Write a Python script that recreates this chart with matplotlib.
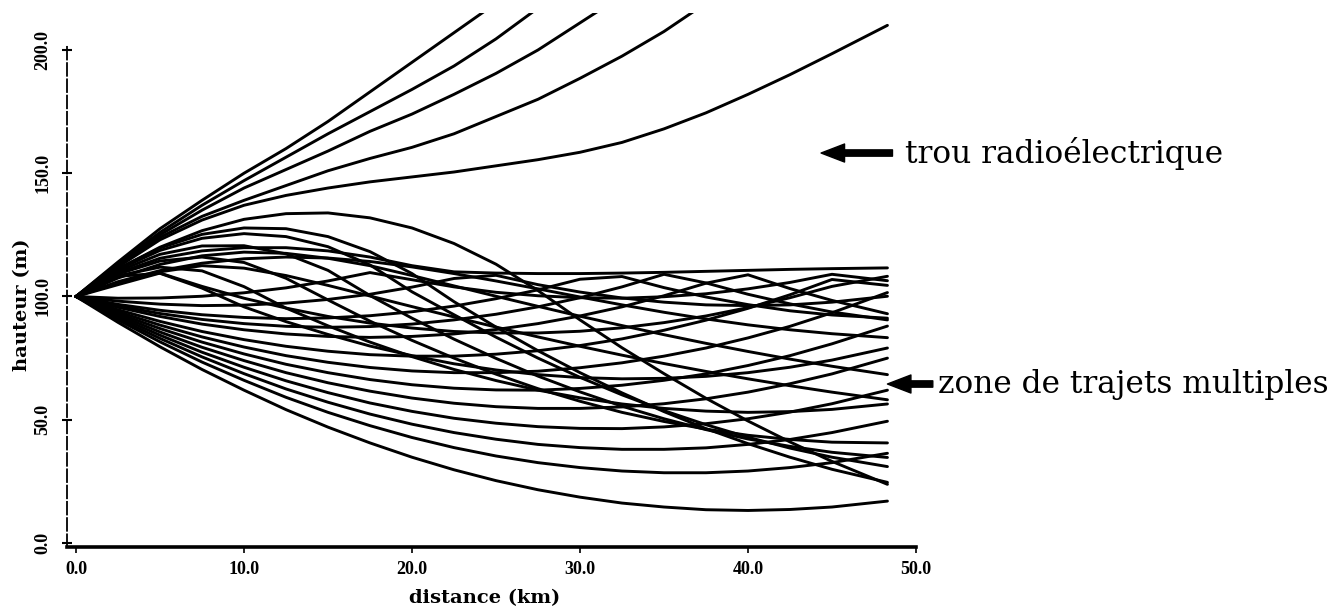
import matplotlib
matplotlib.use("Agg")
import matplotlib.pyplot as plt

# Range samples (km) shared by every ray
dist_km = [0, 2.5, 5, 7.5, 10, 12.5, 15, 17.5, 20, 22.5, 25, 27.5, 30, 32.5, 35,
           37.5, 40, 42.5, 45, 48.3]

# Heights (m) of the rays that escape above the duct
escaping_rays = [
    [100, 114, 127.5, 139, 150, 160, 171, 183, 195, 207, 219],
    [100, 113.5, 126, 137, 147, 156.5, 166, 175, 184, 193.5, 204.5, 217],
    [100, 113, 125, 135, 144, 151.5, 159, 167, 174, 182, 190.5, 200, 211, 222],
    [100, 112.5, 124, 132.5, 139, 145, 151, 156, 160.5, 166, 173, 180, 188.5, 197.5,
     207.5, 219],
    [100, 112, 123, 131, 137, 141, 144, 146.5, 148.5, 150.5, 153, 155.5, 158.5, 162.5,
     168, 174.5, 182, 190, 198.5, 210],
]

# Rays launched upwards and bent back into the duct
returning_rays = [
    [100, 109.5, 115.5, 118.5, 119.8, 119.8, 118.5, 116, 112.5, 110, 109.5, 109.3, 109.3,
     109.5, 109.8, 110.2, 110.6, 111, 111.3, 111.6],
    [100, 111.1, 120, 126.7, 131.3, 133.6, 133.9, 131.9, 127.8, 121.5, 113.1, 102.4, 90.5,
     79.2, 68.7, 58.7, 49.5, 41, 33.1, 23.8],
    [100, 111.3, 119.7, 125.2, 127.8, 127.5, 124.3, 118.2, 109.3, 97.9, 87.6, 78, 69.1,
     60.9, 53.3, 46.4, 40.3, 34.8, 29.9, 24.6],
    [100, 110.9, 118.7, 123.6, 125.5, 124.3, 120.2, 112.8, 101.9, 92.6, 83.5, 75, 67.2,
     60.1, 53.7, 48, 42.9, 38.5, 34.8, 31],
    [100, 110.2, 117.1, 120.5, 120.6, 117.3, 110.6, 100.4, 91.2, 82.7, 74.9, 67.7, 61.3,
     55.5, 50.4, 46, 42.2, 39.2, 36.8, 34.7],
    [100, 107.5, 113, 116.5, 118, 117.5, 115.5, 112.5, 108.5, 104.3, 100.1, 96, 92, 88.2,
     84.5, 81, 77.7, 74.6, 71.7, 68.3],
    [100, 109.1, 114.4, 116, 113.8, 107.4, 98.6, 90, 82.2, 75, 68.5, 62.6, 57.5, 53, 49.3,
     46.2, 43.7, 42, 40.9, 40.6],
    [100, 106, 110.5, 113.5, 115.3, 116, 115.6, 114.2, 112, 109.3, 106.3, 103.1, 99.8,
     96.6, 93.6, 90.9, 88.5, 86.5, 84.9, 83.3],
    [100, 105.5, 110, 112.5, 111.5, 108.5, 104.5, 100.2, 95.9, 91.7, 87.6, 83.6, 79.8,
     76.2, 72.8, 69.6, 66.6, 63.8, 61.2, 58.1],
    [100, 108.4, 111.9, 110.4, 104, 95.3, 88.1, 81.5, 75.6, 70.4, 65.9, 62, 58.9, 56.4,
     54.6, 53.5, 53, 53.3, 54.2, 56.4],
    [100, 108.2, 109.4, 103.4, 95.8, 89.8, 84.6, 79.9, 76, 72.7, 70.2, 68.3, 67.1, 66.6,
     66.8, 67.6, 69.1, 71.3, 74.2, 79.1],
]

# Rays bouncing under the top of the duct (multipath zone)
trapped_rays = [
    [100, 94.6, 89.9, 85.8, 82.5, 79.8, 77.8, 76.4, 75.8, 75.8, 76.6, 78, 80.1, 82.8,
     86.3, 90.4, 95.2, 100.7, 106.9, 104.5],
    [100, 95.6, 91.9, 88.8, 86.5, 84.8, 83.8, 83.4, 83.8, 84.8, 86.6, 89, 92.1, 95.8,
     100.3, 105.4, 108.8, 103.2, 98.4, 93],
    [100, 96.2, 93.1, 90.7, 89, 87.9, 87.5, 87.8, 88.8, 90.5, 92.8, 95.8, 99.5, 103.9,
     109, 105.5, 100.9, 97, 93.7, 90.5],
    [100, 96.8, 94.4, 92.6, 91.5, 91, 91.3, 92.2, 93.8, 96.1, 99.1, 102.7, 107, 108.1,
     103.6, 99.8, 96.7, 94.2, 92.5, 91.2],
    [100, 98.1, 96.9, 96.3, 96.5, 97.3, 98.8, 100.9, 103.8, 107.3, 108.6, 104.8, 101.8,
     99.4, 97.7, 96.6, 96.3, 96.6, 97.7, 100.1],
    [100, 99.3, 99.4, 100.1, 101.5, 103.5, 106.3, 109.7, 106.8, 103.9, 101.7, 100.3, 99.5,
     99.3, 99.9, 101.1, 103.1, 105.7, 109, 106.4],
    [100, 104.8, 109.5, 104.1, 99.3, 95.3, 91.9, 89.2, 87.2, 85.8, 85.2, 85.2, 85.9, 87.3,
     89.4, 92.1, 95.5, 99.5, 104.1, 108.2],
]

# Rays launched downwards, curving back up
descending_rays = [
    [100, 89.5, 79.6, 70.4, 62, 54.1, 47, 40.6, 34.8, 29.7, 25.3, 21.6, 18.6, 16.2, 14.6,
     13.5, 13.2, 13.6, 14.6, 17],
    [100, 90.5, 81.6, 73.4, 66, 59.1, 53, 47.6, 42.8, 38.7, 35.3, 32.6, 30.6, 29.2, 28.5,
     28.5, 29.2, 30.6, 32.6, 36.4],
    [100, 91.1, 83, 75.5, 68.7, 62.5, 57.1, 52.3, 48.2, 44.8, 42.1, 40, 38.7, 38, 38,
     38.6, 40, 42, 44.8, 49.4],
    [100, 91.8, 84.3, 77.4, 71.3, 65.8, 61, 56.8, 53.4, 50.6, 48.6, 47.2, 46.5, 46.4,
     47.1, 48.4, 50.4, 53.1, 56.5, 62],
    [100, 92.5, 85.6, 79.4, 74, 69.1, 65, 61.6, 58.8, 56.7, 55.3, 54.6, 54.6, 55.2, 56.5,
     58.5, 61.2, 64.6, 68.6, 75],
    [100, 93.1, 87, 81.5, 76.7, 72.5, 69.1, 66.3, 64.2, 62.8, 62.1, 62, 62.7, 64, 66,
     68.6, 72, 76, 80.8, 88],
    [100, 93.8, 88.4, 83.6, 79.5, 76, 73.3, 71.2, 69.8, 69.1, 69.1, 69.7, 71.1, 73.1,
     75.8, 79.1, 83.2, 87.9, 93.4, 101.6],
]

x_ticks = [0, 10, 20, 30, 40, 50]
x_tick_labels = ["0.0", "10.0", "20.0", "30.0", "40.0", "50.0"]
y_ticks = [0, 50, 100, 150, 200]
y_tick_labels = ["0.0", "50.0", "100.0", "150.0", "200.0"]

W, H = 1338, 612
fig = plt.figure(figsize=(W / 100, H / 100), dpi=100)
ax = fig.add_axes([67 / W, (H - 547) / H, (916 - 67) / W, (547 - 13) / H])
ax.set_xlim(-0.536, 50.0)
ax.set_ylim(-1.62, 215.0)

for family in (descending_rays, trapped_rays, returning_rays, escaping_rays):
    for heights in family:
        ax.plot(dist_km[:len(heights)], heights, color="black", lw=2.1,
                solid_joinstyle="round", solid_capstyle="round")

for side in ("top", "right"):
    ax.spines[side].set_visible(False)
ax.spines["left"].set_bounds(-1.62, 201.5)
ax.spines["left"].set_linewidth(1.3)
ax.spines["left"].set_linestyle((0, (7, 2)))
ax.spines["bottom"].set_bounds(-0.536, 50.0)
ax.spines["bottom"].set_linewidth(2.6)

tick_font = dict(family="Liberation Serif", weight="bold", size=13)
ax.set_xticks(x_ticks)
ax.set_xticklabels(x_tick_labels, fontdict=tick_font)
ax.set_yticks(y_ticks)
ax.set_yticklabels(y_tick_labels, fontdict=tick_font, rotation=90, va="center")
ax.tick_params(axis="x", direction="out", length=4, width=1.2, pad=6)
ax.tick_params(axis="y", direction="inout", length=7, width=1.5, pad=8)

label_font = dict(family="DejaVu Serif", weight="bold", size=14)
ax.set_xlabel("distance (km)", fontdict=label_font, va="center")
ax.xaxis.set_label_coords((485 - 67) / 849, (547 - 598) / 534)
ax.set_ylabel("hauteur (m)", fontdict=label_font, va="center")
ax.yaxis.set_label_coords((22 - 67) / 849, (547 - 305) / 534)

arrow_style = dict(arrowstyle="simple,head_length=1.3,head_width=1.0,tail_width=0.35",
                   mutation_scale=13, fc="black", ec="black", shrinkA=0, shrinkB=0)
note_font = dict(family="DejaVu Serif", size=22.5)

ax.annotate("", xy=(44.35, 158.2), xytext=(48.6, 158.2), arrowprops=arrow_style,
            annotation_clip=False)
ax.text(49.35, 158.2, "trou radioélectrique", va="center", ha="left",
        clip_on=False, **note_font)

ax.annotate("", xy=(48.3, 64.5), xytext=(51.0, 64.5), arrowprops=arrow_style,
            annotation_clip=False)
ax.text(51.3, 64.5, "zone de trajets multiples", va="center", ha="left",
        clip_on=False, **note_font)

fig.savefig("out.png", dpi=100, facecolor="white")
